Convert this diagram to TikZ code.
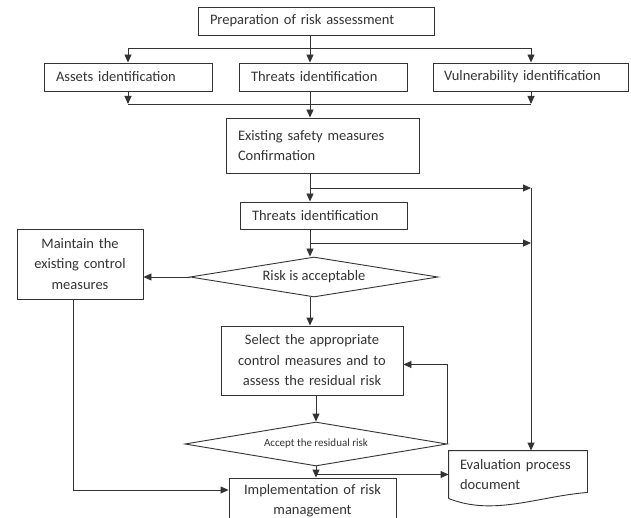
\documentclass[tikz,border=0pt]{standalone}
\usepackage{fontspec}
\setmainfont{Carlito}
\usetikzlibrary{shapes.geometric,arrows.meta}
\begin{document}
\begin{tikzpicture}[x=1pt,y=-1pt,>={Triangle[length=8pt,width=7pt]},
 color=black!80,line width=0.9pt,
 stepbox/.style={draw,rectangle,inner xsep=12pt,inner ysep=0pt,align=left,
   font=\fontsize{14.5}{20.5}\selectfont},
 ctrbox/.style={stepbox,align=center},
 decision/.style={draw,diamond,aspect=6,inner sep=0pt,
   font=\fontsize{14.5}{17}\selectfont}]
 \useasboundingbox (0,0) rectangle (631,518);

 \node[stepbox,text width=212pt,minimum height=28pt] (prep) at (316,21) {Preparation of risk assessment};
 \node[stepbox,text width=144pt,minimum height=28pt] (ass) at (128,77) {Assets identification};
 \node[stepbox,text width=144pt,minimum height=28pt] (thr) at (323,77) {Threats identification};
 \node[stepbox,text width=173pt,minimum height=28pt,inner xsep=11pt] (vul) at (530.5,77) {Vulnerability identification};
 \node[stepbox,text width=169pt,minimum height=55pt] (exi) at (322.5,145.5) {Existing safety measures\\Confirmation};
 \node[stepbox,text width=143pt,minimum height=27pt] (thr2) at (323.5,215.5) {Threats identification};
 \node[ctrbox,text width=102pt,minimum height=70pt] (mai) at (80,264) {Maintain the\\existing control\\measures};
 \node[decision,minimum width=248pt,minimum height=40pt] (risk) at (314,277) {Risk is acceptable};
 \node[ctrbox,text width=158pt,minimum height=69pt] (sel) at (312,360.5) {Select the appropriate\\control measures and to\\assess the residual risk};
 \node[decision,minimum width=262pt,minimum height=44pt,font=\fontsize{11}{13}\selectfont] (acc) at (316,444) {Accept the residual risk};
 \node[ctrbox,text width=143pt,minimum height=45pt] (imp) at (312.5,500.5) {Implementation of risk\\management};
 \node[stepbox,draw=none,text width=116pt,minimum height=47pt,inner xsep=11pt] (eval) at (518,474.5) {Evaluation process\\document};
 \draw (eval.south west) -- (eval.north west) -- (eval.north east) -- ([yshift=6pt]eval.south east)
   .. controls ([xshift=-50pt,yshift=2pt]eval.south east) and ([xshift=45pt,yshift=-18pt]eval.south west) .. (eval.south west);

 \coordinate (cl) at (128,0);
 \coordinate (cm) at (310,0);
 \coordinate (cr) at (531,0);
 \coordinate (split) at (310,48);
 \coordinate (merge) at (310,104);
 \coordinate (b1) at (310,188);
 \coordinate (b2) at (310,243);
 \coordinate (c4) at (73,490);

 \draw[->] (prep.south -| cm) -- (thr.north -| cm);
 \draw[->] (split) -| (ass.north -| cl);
 \draw[->] (split) -| (vul.north -| cr);
 \draw[->] (ass.south -| cl) -- (merge -| cl);
 \draw[->] (vul.south -| cr) -- (merge -| cr);
 \draw (merge -| cl) -- (merge -| cr);
 \draw[->] (thr.south -| cm) -- (exi.north -| cm);
 \draw[->] (exi.south -| cm) -- (thr2.north -| cm);
 \draw[->] (b1) -- (b1 -| cr);
 \draw[->] (b2) -- (b2 -| cr);
 \draw[->] (b1 -| cr) -- (eval.north -| cr);
 \draw[->] (thr2.south -| cm) -- (risk.north -| cm);
 \draw[->] (risk.west) -- (risk.west -| mai.east);
 \draw[->] (risk.south -| cm) -- (sel.north -| cm);
 \draw[->] (sel.south -| acc.north) -- (acc.north);
 \draw[->] (acc.east) |- ([yshift=-4pt]sel.east);
 \draw[->] (acc.south) -- (imp.north -| acc.south);
 \draw[->] (acc.south |- eval.west) -- (eval.west);
 \draw[->] (mai.south -| c4) |- (imp.west |- c4);
\end{tikzpicture}
\end{document}
